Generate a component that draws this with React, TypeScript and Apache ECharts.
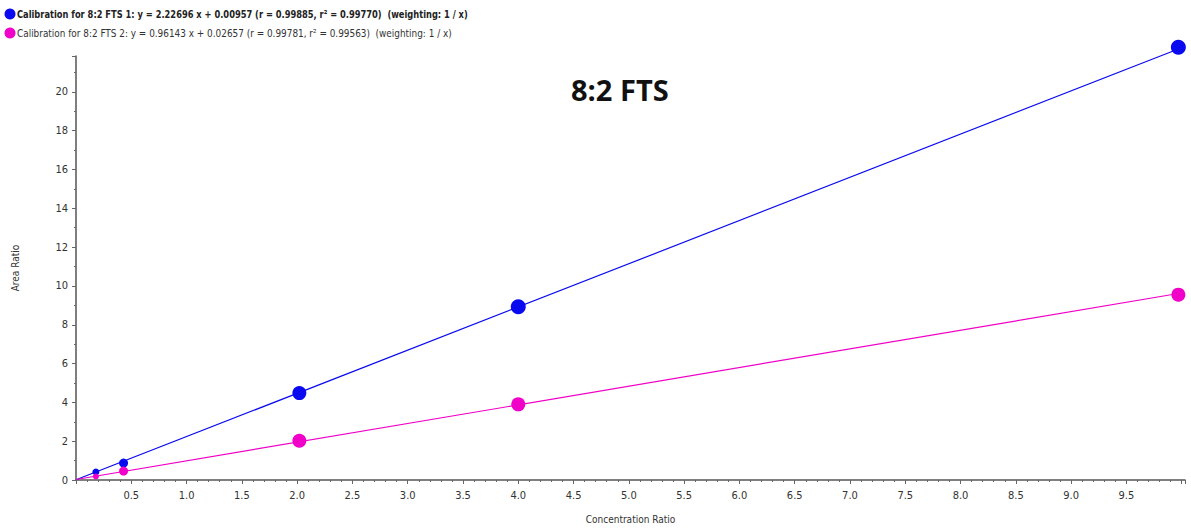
import React, { useEffect, useRef } from "react";
import * as echarts from "echarts";

const seriesNames = [
  "Calibration for 8:2 FTS 1: y = 2.22696 x + 0.00957 (r = 0.99885, r² = 0.99770)  (weighting: 1 / x)",
  "Calibration for 8:2 FTS 2: y = 0.96143 x + 0.02657 (r = 0.99781, r² = 0.99563)  (weighting: 1 / x)",
];
const concentration = [0.18, 0.43, 2.02, 4.0, 9.97];
const areaFTS1 = [0.41, 0.87, 4.48, 8.93, 22.3];
const areaFTS2 = [0.18, 0.46, 2.02, 3.9, 9.55];
const pointSizes1 = [7, 9, 14, 15, 15];
const pointSizes2 = [6, 9, 14, 14, 14];
// regression coefficients [slope, intercept]
const fit1 = [2.22696, 0.00957];
const fit2 = [0.96143, 0.02657];
const fitRange = [0, 9.97];
const colors = ["#0a0af0", "#f000c8"];

export default function App() {
  const ref = useRef<HTMLDivElement>(null);
  useEffect(() => {
    const chart = echarts.init(ref.current!, null, { renderer: "svg" });
    const fitLine = (f: number[]) => fitRange.map((x) => [x, f[0] * x + f[1]]);
    const pts = (ys: number[], sizes: number[]) =>
      concentration.map((x, i) => ({ value: [x, ys[i]], symbolSize: sizes[i] }));
    const font = "'DejaVu Sans Condensed', 'DejaVu Sans', sans-serif";
    chart.setOption({
      animation: false,
      color: colors,
      graphic: [
        { type: "circle", shape: { cx: 10, cy: 14, r: 5.5 }, style: { fill: colors[0] } },
        {
          type: "text",
          x: 17,
          y: 14,
          scaleX: 0.84,
          style: {
            text: seriesNames[0],
            fontSize: 11,
            fontWeight: "bold",
            fontFamily: font,
            fill: "#222",
            verticalAlign: "middle",
          },
        },
        { type: "circle", shape: { cx: 10, cy: 33, r: 5.5 }, style: { fill: colors[1] } },
        {
          type: "text",
          x: 17,
          y: 33,
          scaleX: 0.9,
          style: {
            text: seriesNames[1],
            fontSize: 11,
            fontFamily: font,
            fill: "#333",
            verticalAlign: "middle",
          },
        },
        {
          type: "text",
          x: 571,
          y: 89,
          style: {
            text: "8:2 FTS",
            fontSize: 29,
            fontWeight: "bold",
            fontFamily: "'Open Sans', sans-serif",
            fill: "#111",
            verticalAlign: "middle",
          },
        },
      ],
      grid: { left: 76, right: 6, top: 56, bottom: 47 },
      xAxis: {
        type: "value",
        min: 0,
        max: 10.03,
        interval: 0.5,
        name: "Concentration Ratio",
        nameLocation: "middle",
        nameGap: 34,
        nameTextStyle: { fontSize: 10, color: "#333", fontFamily: font },
        axisLine: { lineStyle: { color: "#555", width: 1.5 } },
        axisTick: { length: 4, lineStyle: { color: "#666" } },
        minorTick: { show: true, splitNumber: 5, length: 2, lineStyle: { color: "#666" } },
        splitLine: { show: false },
        axisLabel: {
          fontSize: 11,
          color: "#333",
          fontFamily: font,
          margin: 10,
          formatter: (v: number) => (v <= 0 || v > 9.9 ? "" : v.toFixed(1)),
        },
      },
      yAxis: {
        type: "value",
        min: 0,
        max: 21.85,
        interval: 2,
        name: "Area Ratio",
        nameLocation: "middle",
        nameGap: 56,
        nameTextStyle: { fontSize: 10, color: "#333", fontFamily: font },
        axisLine: { show: true, lineStyle: { color: "#555", width: 1.5 } },
        axisTick: { show: true, length: 4, lineStyle: { color: "#666" } },
        minorTick: { show: true, splitNumber: 2, length: 2, lineStyle: { color: "#666" } },
        splitLine: { show: false },
        axisLabel: {
          fontSize: 11,
          color: "#333",
          fontFamily: font,
          margin: 8,
          formatter: (v: number) => (v > 21 ? "" : String(v)),
        },
      },
      series: [
        {
          name: seriesNames[0],
          type: "line",
          data: fitLine(fit1),
          showSymbol: false,
          clip: false,
          lineStyle: { width: 1.2, color: colors[0] },
          itemStyle: { color: colors[0] },
        },
        {
          name: seriesNames[1],
          type: "line",
          data: fitLine(fit2),
          showSymbol: false,
          clip: false,
          lineStyle: { width: 1.2, color: colors[1] },
          itemStyle: { color: colors[1] },
        },
        {
          name: seriesNames[0],
          type: "scatter",
          data: pts(areaFTS1, pointSizes1),
          clip: false,
          itemStyle: { color: colors[0], opacity: 1 },
        },
        {
          name: seriesNames[1],
          type: "scatter",
          data: pts(areaFTS2, pointSizes2),
          clip: false,
          itemStyle: { color: colors[1], opacity: 1 },
        },
      ],
    });
    return () => chart.dispose();
  }, []);
  return <div ref={ref} style={{ width: 1191, height: 529, position: "absolute", left: 0, top: 0 }} />;
}
